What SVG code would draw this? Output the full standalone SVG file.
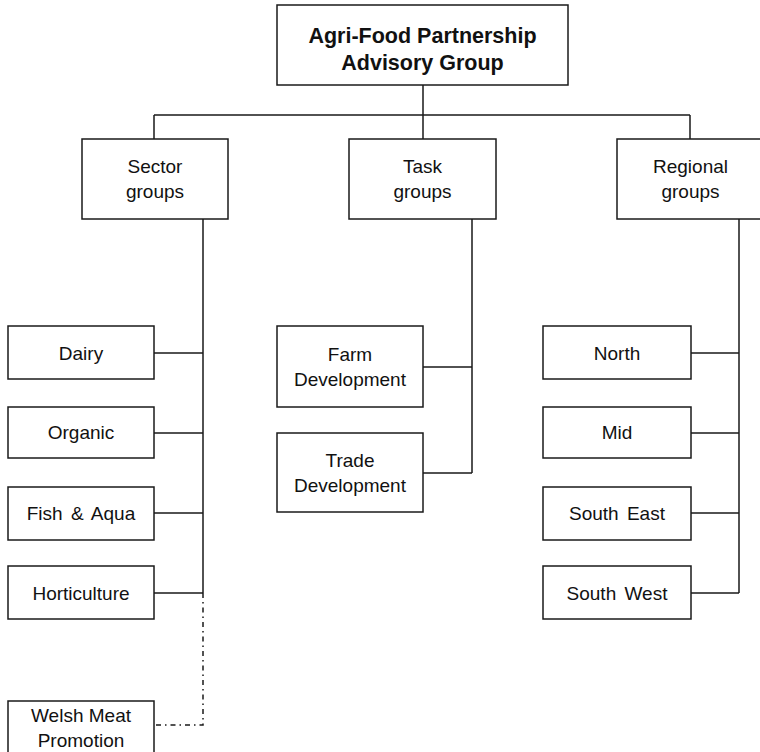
<svg xmlns="http://www.w3.org/2000/svg" width="760" height="752" viewBox="0 0 760 752">
<style>
.box{fill:#fff;stroke:#1a1a1a;stroke-width:1.5}
.ln{fill:none;stroke:#1a1a1a;stroke-width:1.5}
.dash{fill:none;stroke:#1a1a1a;stroke-width:1.5;stroke-dasharray:5 4 1.5 4}
text{font-family:"Liberation Sans",Arial,sans-serif;font-size:19px;fill:#111;text-anchor:middle}
.title{font-size:21.5px;font-weight:bold}
.ws{word-spacing:3px}
</style>
<rect width="760" height="752" fill="#fff"/>
<g id="connectors">
<path class="ln" d="M423 85V115M154 115H690M154 115V139M423 115V139M690 115V139"/>
<path class="ln" d="M203 219V593M154 353H203M154 433H203M154 513H203M154 593H203"/>
<path class="ln" d="M472 219V473M423 367H472M423 473H472"/>
<path class="ln" d="M739 219V593M691 353H739M691 433H739M691 513H739M691 593H739"/>
<path class="dash" d="M203 593V725H154"/>
</g>
<g id="top"><rect class="box" x="277" y="5" width="291" height="80"/><text class="title" x="422.5" y="43">Agri-Food Partnership</text><text class="title" x="422.5" y="70">Advisory Group</text></g>
<g id="sector"><rect class="box" x="82" y="139" width="146" height="80"/><text x="155" y="173">Sector</text><text x="155" y="198">groups</text></g>
<g id="task"><rect class="box" x="349" y="139" width="147" height="80"/><text x="422.5" y="173">Task</text><text x="422.5" y="198">groups</text></g>
<g id="regional"><rect class="box" x="617" y="139" width="147" height="80"/><text x="690.5" y="173">Regional</text><text x="690.5" y="198">groups</text></g>
<g id="dairy"><rect class="box" x="8" y="326" width="146" height="53"/><text x="81" y="360">Dairy</text></g>
<g id="organic"><rect class="box" x="8" y="407" width="146" height="51"/><text x="81" y="439">Organic</text></g>
<g id="fish"><rect class="box" x="8" y="487" width="146" height="53"/><text class="ws" x="81" y="520">Fish &amp; Aqua</text></g>
<g id="horticulture"><rect class="box" x="8" y="566" width="146" height="53"/><text x="81" y="600">Horticulture</text></g>
<g id="welsh"><rect class="box" x="8" y="701" width="146" height="60"/><text x="81" y="722">Welsh Meat</text><text x="81" y="747">Promotion</text></g>
<g id="farm"><rect class="box" x="277" y="326" width="146" height="81"/><text x="350" y="361">Farm</text><text x="350" y="386">Development</text></g>
<g id="trade"><rect class="box" x="277" y="433" width="146" height="79"/><text x="350" y="467">Trade</text><text x="350" y="492">Development</text></g>
<g id="north"><rect class="box" x="543" y="326" width="148" height="53"/><text x="617" y="360">North</text></g>
<g id="mid"><rect class="box" x="543" y="407" width="148" height="51"/><text x="617" y="439">Mid</text></g>
<g id="southeast"><rect class="box" x="543" y="487" width="148" height="53"/><text class="ws" x="617" y="520">South East</text></g>
<g id="southwest"><rect class="box" x="543" y="566" width="148" height="53"/><text class="ws" x="617" y="600">South West</text></g>
</svg>
